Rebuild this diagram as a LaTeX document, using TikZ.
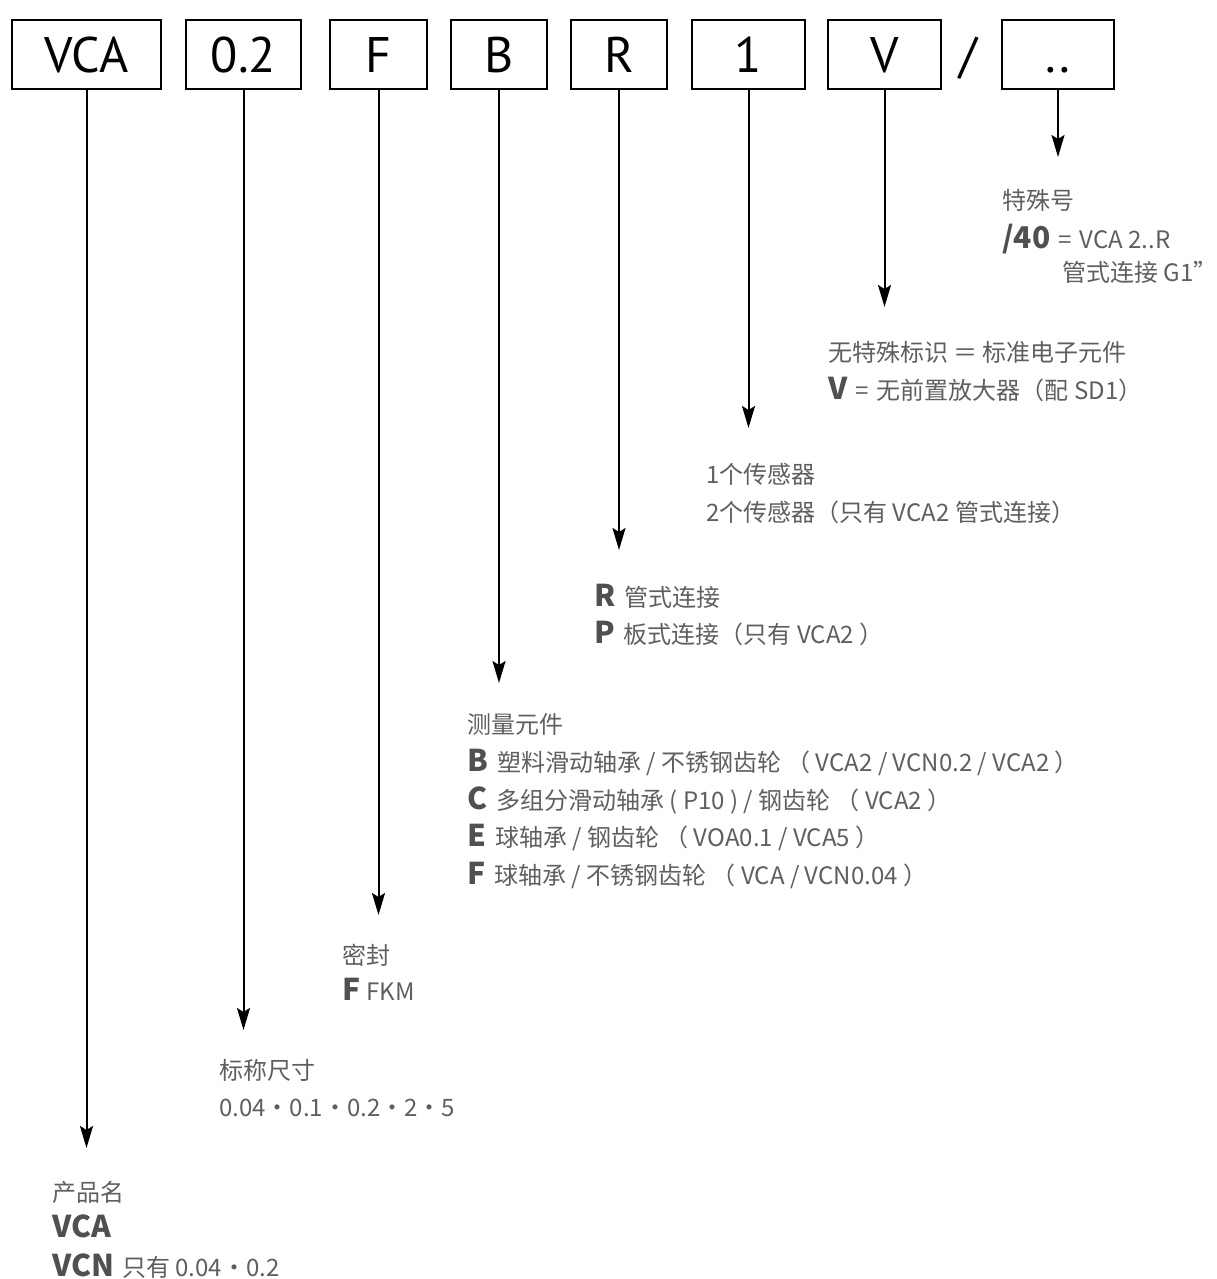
\documentclass[tikz,border=0pt]{standalone}
\usepackage{fontspec}
\setmainfont{Noto Sans CJK SC}
\newfontfamily\boxfont{PT Sans}
\usetikzlibrary{arrows.meta}
\definecolor{txt}{RGB}{95,95,95}
\definecolor{txtb}{RGB}{80,80,80}
\newcommand{\bl}[1]{{\fontsize{30}{32}\selectfont\bfseries\color{txtb}#1}}
\tikzset{
  codebox/.style={draw=black, line width=1.5pt, inner sep=0pt, minimum height=69pt,
    text height=36pt, text depth=0pt,
    font=\boxfont\fontsize{50}{60}\selectfont, text=black},
  arr/.style={draw=black, line width=2pt, -{Stealth[length=22pt,width=13pt,inset=4pt]}},
  lbl/.style={anchor=base west, inner sep=0pt, text=txt, font=\fontsize{24}{28}\selectfont}
}
\begin{document}
\begin{tikzpicture}[x=1pt,y=-1pt]
\useasboundingbox[fill=white] (0,0) rectangle (1216,1279);
% code boxes
\node[codebox, minimum width=149pt] (b1) at (86.5,54.5) {VCA};
\node[codebox, minimum width=115pt] (b2) at (243.5,54.5) {0.2};
\node[codebox, minimum width=97pt]  (b3) at (378.5,54.5) {F};
\node[codebox, minimum width=96pt]  (b4) at (499,54.5) {B};
\node[codebox, minimum width=96pt]  (b5) at (619,54.5) {R};
\node[codebox, minimum width=113pt] (b6) at (748.5,54.5) {1};
\node[codebox, minimum width=113pt] (b7) at (884.5,54.5) {V};
\node[inner sep=0pt, text height=36pt, text depth=0pt, font=\boxfont\fontsize{50}{60}\selectfont] (sl) at (968,54.5) {/};
\node[codebox, minimum width=112pt] (b8) at (1058,54.5) {..};
% arrow tips
\coordinate (t1) at (86.5,1148);
\coordinate (t2) at (243.5,1030);
\coordinate (t3) at (378.5,915);
\coordinate (t4) at (499,683);
\coordinate (t5) at (619,550);
\coordinate (t6) at (748.5,428);
\coordinate (t7) at (884.5,307);
\coordinate (t8) at (1058,157);
\draw[arr] (b1.south) -- (t1);
\draw[arr] (b2.south) -- (t2);
\draw[arr] (b3.south) -- (t3);
\draw[arr] (b4.south) -- (t4);
\draw[arr] (b5.south) -- (t5);
\draw[arr] (b6.south) -- (t6);
\draw[arr] (b7.south) -- (t7);
\draw[arr] (b8.south) -- (t8);
% group 8
\node[lbl] (l81) at (1002,209) {特殊号};
\node[lbl] (l82) at (1002,248) {\bl{/40}\hspace{8pt}=\hspace{8pt}VCA 2..R};
\node[lbl] (l83) at (1062,281) {管式连接 G1”};
% group 7
\node[lbl] (l71) at (828,361) {无特殊标识 ＝ 标准电子元件};
\node[lbl] (l72) at (828,399) {\bl{V}\hspace{8pt}=\hspace{8pt}无前置放大器（配 SD1）};
% group 6
\node[lbl] (l61) at (706,483) {1个传感器};
\node[lbl] (l62) at (706,521) {2个传感器（只有 VCA2 管式连接）};
% group 5
\node[lbl] (l51) at (594,606) {\bl{R}\hspace{9pt}管式连接};
\node[lbl] (l52) at (594,643) {\bl{P}\hspace{9pt}板式连接（只有 VCA2 ）};
% group 4
\node[lbl] (l41) at (467,733) {测量元件};
\node[lbl] (l42) at (467,771) {\bl{B}\hspace{9pt}塑料滑动轴承 / 不锈钢齿轮 （ VCA2 / VCN0.2 / VCA2 ）};
\node[lbl] (l43) at (467,809) {\bl{C}\hspace{9pt}多组分滑动轴承 ( P10 ) / 钢齿轮 （ VCA2 ）};
\node[lbl] (l44) at (467,846) {\bl{E}\hspace{9pt}球轴承 / 钢齿轮 （ VOA0.1 / VCA5 ）};
\node[lbl] (l45) at (467,884) {\bl{F}\hspace{9pt}球轴承 / 不锈钢齿轮 （ VCA / VCN0.04 ）};
% group 3
\node[lbl] (l31) at (342,964) {密封};
\node[lbl] (l32) at (342,1000) {\bl{F}\hspace{6pt}FKM};
% group 2
\node[lbl] (l21) at (219,1079) {标称尺寸};
\node[lbl] (l22) at (219,1116) {0.04•0.1•0.2•2•5};
% group 1
\node[lbl] (l11) at (52,1201) {产品名};
\node[lbl] (l12) at (52,1237) {\bl{VCA}};
\node[lbl] (l13) at (52,1276) {\bl{VCN}\hspace{8pt}只有 0.04•0.2};
\end{tikzpicture}
\end{document}
